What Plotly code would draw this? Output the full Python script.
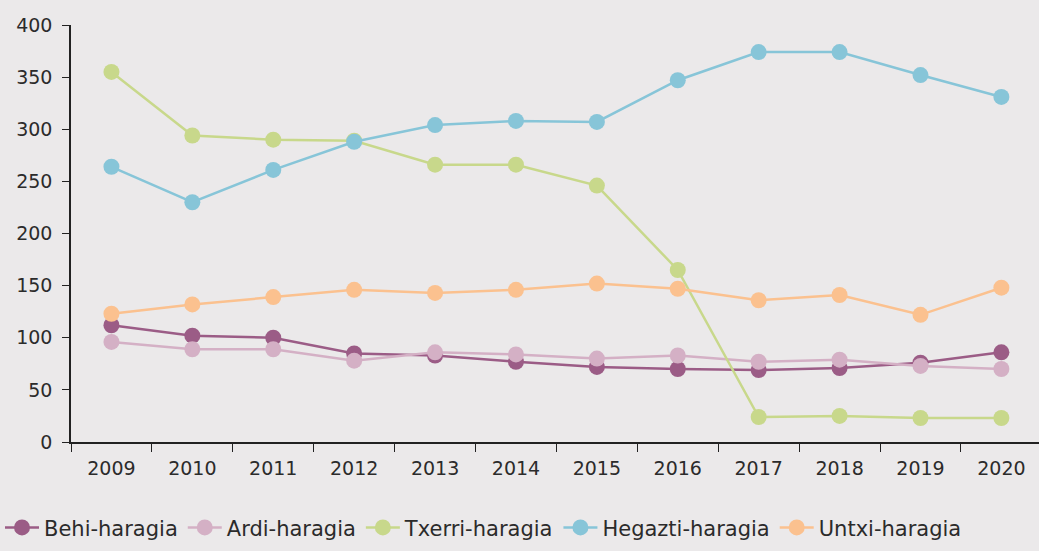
import plotly.graph_objects as go

years = ["2009", "2010", "2011", "2012", "2013", "2014", "2015", "2016", "2017", "2018", "2019", "2020"]

behi = [112, 102, 100, 85, 83, 77, 72, 70, 69, 71, 76, 86]
ardi = [96, 89, 89, 78, 86, 84, 80, 83, 77, 79, 73, 70]
txerri = [355, 294, 290, 289, 266, 266, 246, 165, 24, 25, 23, 23]
hegazti = [264, 230, 261, 288, 304, 308, 307, 347, 374, 374, 352, 331]
untxi = [123, 132, 139, 146, 143, 146, 152, 147, 136, 141, 122, 148]

series = [
    ("Behi-haragia", behi, "#9b5c86"),
    ("Ardi-haragia", ardi, "#d4b0c5"),
    ("Txerri-haragia", txerri, "#c8d88b"),
    ("Hegazti-haragia", hegazti, "#87c5d8"),
    ("Untxi-haragia", untxi, "#fbc18f"),
]

fig = go.Figure()
for name, vals, col in series:
    fig.add_trace(go.Scatter(
        x=years, y=vals, name=name, mode="lines+markers",
        line=dict(color=col, width=2.5),
        marker=dict(color=col, size=16),
    ))

bg = "#ebe9ea"
fig.update_layout(
    width=1039, height=551,
    paper_bgcolor=bg, plot_bgcolor=bg,
    margin=dict(l=71, r=0, t=25, b=109),
    font=dict(family="DejaVu Sans, sans-serif", size=19, color="#2b2b2b"),
    showlegend=True,
    legend=dict(orientation="h", x=0.0, xanchor="left", xref="container",
                y=0.005, yanchor="bottom", yref="container",
                font=dict(size=21), bgcolor="rgba(0,0,0,0)", itemwidth=34,
                traceorder="normal"),
    xaxis=dict(type="category", range=[-0.5, 11.465], showgrid=False,
               showline=True, linecolor="#222", linewidth=1.5,
               ticks="outside", tickson="boundaries", ticklen=8, tickcolor="#222",
               tickwidth=1.2, zeroline=False, ticklabelstandoff=8),
    yaxis=dict(range=[0, 400], dtick=50, showgrid=False, showline=True,
               linecolor="#222", linewidth=1.5, ticks="outside", ticklen=7,
               tickcolor="#222", tickwidth=1.2, zeroline=False,
               ticklabelstandoff=6),
)

fig.write_html("out.html")
